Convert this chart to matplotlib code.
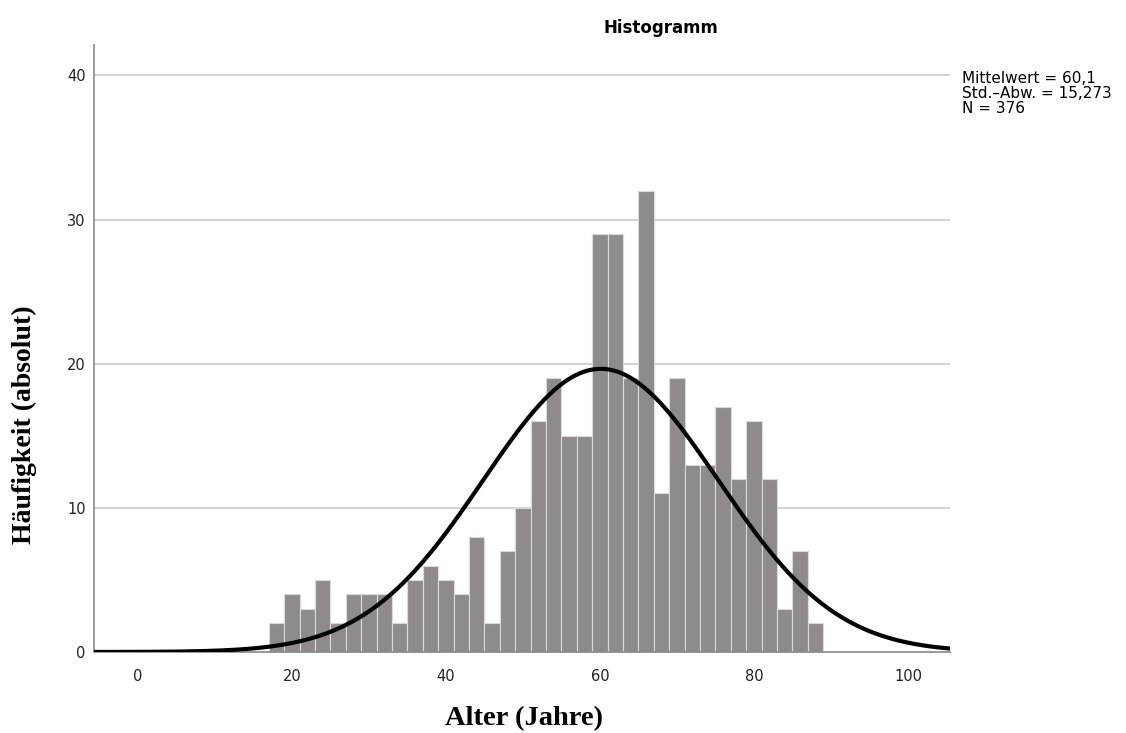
import matplotlib.pyplot as plt
import numpy as np

# Histogram of age, bins of 2 years starting at 17
bin_edges = np.arange(17, 91, 2)
counts = [2, 4, 3, 5, 2, 4, 4, 4, 2, 5, 6, 5, 4, 8, 2, 7, 10, 16,
          19, 15, 15, 29, 29, 19, 32, 11, 19, 13, 13, 17, 12, 16, 12, 3, 7, 2]
mean = 60.1
std = 15.273
n = 376
bin_width = 2

xticks = [0, 20, 40, 60, 80, 100]
yticks = [0, 10, 20, 30, 40]

fig = plt.figure(figsize=(11.26, 7.33), dpi=100)
ax = fig.add_axes([0.0835, 0.1105, 0.7605, 0.828])

ax.bar(bin_edges[:-1], counts, width=bin_width, align='edge',
       color='#8f8b8a', edgecolor='#dcdad9', linewidth=0.8, zorder=2)

# normal curve scaled to counts
xs = np.linspace(-5.7, 105.5, 400)
ys = n * bin_width / (std * np.sqrt(2 * np.pi)) * np.exp(-0.5 * ((xs - mean) / std) ** 2)
ax.plot(xs, ys, color='black', linewidth=3, zorder=3, solid_capstyle='butt')

ax.set_xlim(-5.7, 105.5)
ax.set_ylim(0, 42.1)
ax.set_xticks(xticks)
ax.set_yticks(yticks)
ax.tick_params(length=0, labelsize=10.5, colors='#222222', pad=12)
ax.tick_params(axis='y', pad=6)

for y in yticks[1:]:
    ax.axhline(y, color='#d3d3d3', linewidth=1.5, zorder=1)

for s in ['top', 'right']:
    ax.spines[s].set_visible(False)
for s in ['left', 'bottom']:
    ax.spines[s].set_color('#888888')
    ax.spines[s].set_linewidth(1.2)

fig.text(0.587, 0.962, 'Histogramm', ha='center', va='center',
         fontsize=12, fontweight='bold')
fig.text(0.465, 0.002, 'Alter (Jahre)', ha='center', va='bottom',
         fontsize=20.5, fontweight='bold', family='Liberation Serif')
fig.text(0.022, 0.42, 'Häufigkeit (absolut)', ha='center', va='center',
         rotation=90, fontsize=20, fontweight='bold', family='Liberation Serif')

fig.text(0.854, 0.903, 'Mittelwert = 60,1\nStd.–Abw. = 15,273\nN = 376',
         ha='left', va='top', fontsize=11, linespacing=1.0)

fig.savefig('out.png', dpi=100)
